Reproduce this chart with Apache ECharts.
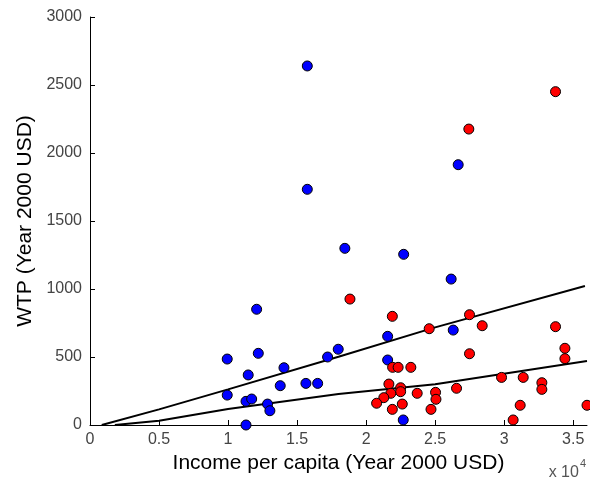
<!DOCTYPE html>
<html>
<head>
<meta charset="utf-8">
<script src="https://cdn.jsdelivr.net/npm/echarts@6/dist/echarts.min.js"></script>
<style>
  html, body { margin: 0; padding: 0; background: #fff; }
  #chart { width: 590px; height: 484px; }
</style>
</head>
<body>
<div id="chart"></div>
<script>
// income per capita (USD) / WTP (USD)
var bluePoints = [
  [15740, 2640], [15740, 1733], [26670, 1914], [18460, 1299], [22720, 1255],
  [26160, 1073], [12070, 851], [9940, 485], [12190, 527], [14050, 421],
  [11460, 368], [17210, 500], [17980, 557], [13780, 289], [15640, 306],
  [16490, 306], [9940, 220], [11300, 174], [11710, 191], [12860, 154],
  [13030, 105], [11300, 0], [21560, 652], [26310, 698], [21560, 478],
  [22690, 37]
];
var redPoints = [
  [33720, 2451], [27440, 2176], [18830, 926], [21900, 799], [27490, 811],
  [24570, 708], [28410, 730], [33720, 723], [27490, 524], [34400, 564],
  [34400, 488], [21920, 424], [22320, 424], [23240, 424], [29810, 350],
  [31380, 350], [32730, 311], [32730, 262], [21650, 301], [22500, 274],
  [22500, 245], [21790, 233], [21280, 201], [20760, 160], [22620, 154],
  [21900, 115], [23700, 233], [25030, 240], [25060, 189], [24700, 115],
  [26550, 270], [31160, 145], [30650, 37], [36000, 145]
];
var upperLine = [[850, 0], [5000, 115], [10000, 262], [18000, 502], [25000, 718], [35850, 1022]];
var lowerLine = [[1800, 0], [5000, 32], [10000, 118], [18000, 228], [25000, 299], [36000, 470]];

var xMin = 0, xMax = 36000, xStep = 5000;
var yMin = 0, yMax = 3000, yStep = 500;

var myEcharts = echarts.init(document.getElementById('chart'));

var tickLabel = {
  fontFamily: 'Liberation Sans',
  fontSize: 16,
  color: '#444'
};

var option = {
  animation: false,
  grid: { left: 90, right: 3, top: 17, bottom: 59, containLabel: false },
  xAxis: {
    type: 'value',
    min: xMin,
    max: xMax,
    interval: xStep,
    name: 'Income per capita (Year 2000 USD)',
    nameLocation: 'middle',
    nameGap: 27,
    nameTextStyle: { fontFamily: 'Liberation Sans', fontSize: 21, color: '#000' },
    axisLine: { lineStyle: { color: '#000', width: 1 } },
    axisTick: { inside: true, length: 5, lineStyle: { color: '#000' } },
    axisLabel: Object.assign({
      margin: 7,
      showMaxLabel: false,
      formatter: function (v) { return String(v / 10000); }
    }, tickLabel),
    splitLine: { show: false }
  },
  yAxis: {
    type: 'value',
    min: yMin,
    max: yMax,
    interval: yStep,
    name: 'WTP (Year 2000 USD)',
    nameLocation: 'middle',
    nameGap: 44,
    nameTextStyle: { fontFamily: 'Liberation Sans', fontSize: 21, color: '#000' },
    axisLine: { show: true, lineStyle: { color: '#000', width: 1 } },
    axisTick: { show: true, inside: true, length: 5, lineStyle: { color: '#000' } },
    axisLabel: Object.assign({
      margin: 8,
      formatter: function (v) { return String(v); }
    }, tickLabel),
    splitLine: { show: false }
  },
  graphic: [{
    type: 'text',
    right: 4,
    top: 458,
    style: {
      text: '{a|x 10}{b|4}',
      rich: {
        a: { fontFamily: 'Liberation Sans', fontSize: 16, fill: '#555', verticalAlign: 'bottom' },
        b: { fontFamily: 'Liberation Sans', fontSize: 11, fill: '#555', verticalAlign: 'top', padding: [0, 0, 12, 1] }
      }
    }
  }],
  series: [
    {
      name: 'upper fit',
      type: 'line',
      data: upperLine,
      symbol: 'none',
      lineStyle: { color: '#000', width: 2 },
      z: 1
    },
    {
      name: 'lower fit',
      type: 'line',
      data: lowerLine,
      symbol: 'none',
      lineStyle: { color: '#000', width: 2 },
      z: 1
    },
    {
      name: 'blue',
      type: 'scatter',
      data: bluePoints,
      symbolSize: 10,
      itemStyle: { color: '#0000ff', borderColor: '#000', borderWidth: 1, opacity: 1 },
      z: 3
    },
    {
      name: 'red',
      type: 'scatter',
      data: redPoints,
      symbolSize: 10,
      itemStyle: { color: '#ff0000', borderColor: '#000', borderWidth: 1, opacity: 1 },
      z: 3
    }
  ]
};

myEcharts.setOption(option, true);
</script>
</body>
</html>
